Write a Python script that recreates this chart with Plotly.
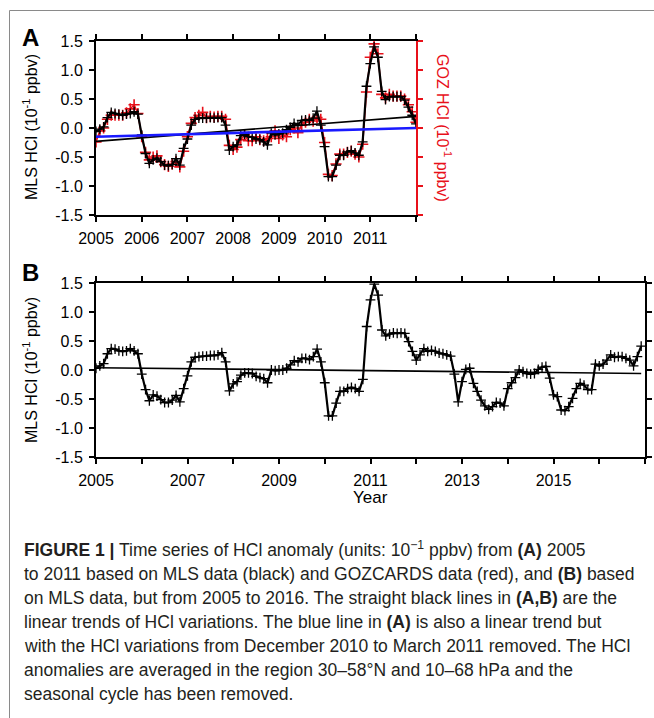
import numpy as np
import plotly.graph_objects as go

W, H = 654, 718

# ---------------- data ----------------
# Panel A: monthly HCl anomalies, Jan 2005 - Jan 2012 (10^-1 ppbv)
mls_a = [
    -0.06, -0.02, 0.02, 0.18, 0.27, 0.25, 0.24, 0.22, 0.24, 0.25, 0.28, 0.24,
    -0.12, -0.44, -0.61, -0.55, -0.52, -0.58, -0.64, -0.65, -0.63, -0.53, -0.64, -0.35,
    -0.19, 0.05, 0.15, 0.17, 0.17, 0.17, 0.18, 0.17, 0.18, 0.18, 0.05, -0.38,
    -0.32, -0.29, -0.13, -0.11, -0.15, -0.16, -0.19, -0.20, -0.24, -0.29, -0.09, -0.12,
    -0.10, -0.09, -0.03, 0.01, 0.08, 0.05, 0.13, 0.14, 0.13, 0.17, 0.29, 0.05,
    -0.32, -0.84, -0.84, -0.64, -0.47, -0.47, -0.41, -0.39, -0.43, -0.47, -0.24, 0.72,
    1.11, 1.40, 1.22, 0.63, 0.49, 0.54, 0.54, 0.54, 0.54, 0.48, 0.36, 0.22,
    0.07,
]
goz_a = [
    -0.24, -0.05, 0.00, 0.15, 0.22, 0.22, 0.22, 0.22, 0.26, 0.33, 0.40, 0.25,
    -0.15, -0.42, -0.55, -0.50, -0.48, -0.58, -0.63, -0.66, -0.62, -0.58, -0.67, -0.40,
    -0.15, 0.08, 0.18, 0.22, 0.27, 0.18, 0.20, 0.19, 0.20, 0.20, 0.15, -0.30,
    -0.37, -0.33, -0.20, -0.12, -0.22, -0.22, -0.15, -0.20, -0.22, -0.18, -0.15, -0.05,
    -0.18, -0.12, -0.15, -0.03, 0.00, -0.08, 0.05, 0.10, 0.15, 0.12, 0.18, 0.15,
    -0.25, -0.80, -0.82, -0.62, -0.45, -0.45, -0.42, -0.40, -0.45, -0.50, -0.28, 0.62,
    1.22, 1.45, 1.28, 0.58, 0.52, 0.58, 0.55, 0.55, 0.55, 0.50, 0.40, 0.28,
    0.10,
]
# linear trends in panel A (start 2005.0, end 2012.0)
trend_a_years = [2005.0, 2012.0]
trend_a_all = [-0.23, 0.20]
trend_a_nopeak = [-0.15, 0.00]

# Panel B: monthly MLS HCl anomalies, Jan 2005 - Dec 2016
mls_b = [
    0.03, 0.07, 0.11, 0.28, 0.37, 0.36, 0.33, 0.32, 0.33, 0.37, 0.33, 0.28,
    -0.07, -0.34, -0.53, -0.43, -0.45, -0.51, -0.56, -0.56, -0.52, -0.44, -0.55, -0.32,
    -0.10, 0.14, 0.22, 0.23, 0.24, 0.24, 0.25, 0.25, 0.26, 0.30, 0.14, -0.36,
    -0.24, -0.20, -0.09, -0.05, -0.05, -0.06, -0.11, -0.13, -0.15, -0.22, 0.00, -0.01,
    0.00, 0.00, 0.03, 0.09, 0.16, 0.14, 0.20, 0.20, 0.18, 0.23, 0.36, 0.14,
    -0.22, -0.79, -0.79, -0.57, -0.37, -0.37, -0.32, -0.30, -0.32, -0.37, -0.16, 0.75,
    1.21, 1.48, 1.29, 0.69, 0.59, 0.62, 0.64, 0.63, 0.64, 0.63, 0.49, 0.32,
    0.17, 0.26, 0.37, 0.32, 0.34, 0.32, 0.29, 0.28, 0.26, 0.24, -0.07, -0.55,
    -0.20, 0.01, 0.03, -0.23, -0.37, -0.52, -0.62, -0.68, -0.63, -0.56, -0.57, -0.62,
    -0.32, -0.22, -0.13, 0.00, -0.03, -0.06, -0.07, -0.06, 0.01, 0.05, 0.06, -0.14,
    -0.43, -0.46, -0.69, -0.70, -0.63, -0.49, -0.32, -0.23, -0.26, -0.34, -0.34, 0.10,
    0.07, 0.10, 0.17, 0.26, 0.22, 0.23, 0.23, 0.20, 0.17, 0.07, 0.23, 0.41,
]
trend_b_values = [0.04, -0.06]

y_ticks = [-1.5, -1.0, -0.5, 0.0, 0.5, 1.0, 1.5]
y_ticktext = ["-1.5", "-1.0", "-0.5", "0.0", "0.5", "1.0", "1.5"]
a_years = list(range(2005, 2013))
a_year_labels = ["2005", "2006", "2007", "2008", "2009", "2010", "2011", ""]
b_years = list(range(2005, 2018))
b_year_labels = ["2005", "", "2007", "", "2009", "", "2011", "", "2013", "", "2015", "", ""]

t_a = 2005 + np.arange(len(mls_a)) / 12.0
t_b = 2005 + np.arange(len(mls_b)) / 12.0
trend_b_years = [2005.0, float(t_b[-1])]

# ---------------- layout helpers ----------------
def fx(x):
    return x / W

def fy(y):
    return 1 - y / H

FONT = "Liberation Sans, Arial, Helvetica, sans-serif"
RED = "#e8101a"
BLUE = "#1a1aff"

fig = go.Figure()

cross_black = dict(symbol="cross-thin", size=7, line=dict(width=1.3, color="black"), color="black")
cross_red = dict(symbol="cross-thin", size=8, line=dict(width=1.6, color=RED), color=RED)

# panel A
fig.add_trace(go.Scatter(x=t_a, y=goz_a, mode="lines+markers", line=dict(color=RED, width=1.5),
                         marker=cross_red, xaxis="x", yaxis="y", showlegend=False))
fig.add_trace(go.Scatter(x=t_a, y=mls_a, mode="lines+markers", line=dict(color="black", width=2.2),
                         marker=cross_black, xaxis="x", yaxis="y", showlegend=False))
fig.add_trace(go.Scatter(x=trend_a_years, y=trend_a_all, mode="lines", line=dict(color="black", width=1.6),
                         xaxis="x", yaxis="y", showlegend=False))
fig.add_trace(go.Scatter(x=trend_a_years, y=trend_a_nopeak, mode="lines", line=dict(color=BLUE, width=2.6),
                         xaxis="x", yaxis="y", showlegend=False))

# panel B
fig.add_trace(go.Scatter(x=t_b, y=mls_b, mode="lines+markers", line=dict(color="black", width=2.2),
                         marker=cross_black, xaxis="x2", yaxis="y2", showlegend=False))
fig.add_trace(go.Scatter(x=trend_b_years, y=trend_b_values, mode="lines", line=dict(color="black", width=1.6),
                         xaxis="x2", yaxis="y2", showlegend=False))

# the red GOZCARDS axis on the right of panel A
fig.add_trace(go.Scatter(x=[2005], y=[0], mode="markers", marker=dict(opacity=0), xaxis="x", yaxis="y3",
                         showlegend=False, hoverinfo="skip"))

tickfont = dict(family=FONT, size=16, color="black")
axis_common = dict(showgrid=False, zeroline=False, showline=True, linewidth=2, linecolor="black",
                   ticks="outside", ticklen=5, tickwidth=1.5, tickcolor="black", tickfont=tickfont,
                   automargin=False)

a_left, a_right, a_top, a_bot = 96, 416, 41, 215
b_left, b_right, b_top, b_bot = 96, 645, 283, 457

fig.update_layout(
    width=W, height=H, margin=dict(l=0, r=0, t=0, b=0, autoexpand=False),
    paper_bgcolor="white", plot_bgcolor="white",
    font=dict(family=FONT, color="black"),
    xaxis=dict(domain=[fx(a_left), fx(a_right)], anchor="y", range=[2005, 2012],
               tickvals=a_years, ticktext=a_year_labels, mirror="ticks", ticklabelstandoff=3,
               **axis_common),
    yaxis=dict(domain=[fy(a_bot), fy(a_top)], anchor="x", range=[-1.5, 1.5],
               tickvals=y_ticks, ticktext=y_ticktext, ticklabelstandoff=3, **axis_common),
    yaxis3=dict(overlaying="y", side="right", anchor="x", range=[-1.5, 1.5], tickvals=y_ticks,
                showticklabels=False, showgrid=False, zeroline=False, showline=True, linewidth=2,
                linecolor=RED, ticks="outside", ticklen=5, tickwidth=1.5, tickcolor=RED, automargin=False),
    xaxis2=dict(domain=[fx(b_left), fx(b_right)], anchor="y2", range=[2005, 2017],
                tickvals=b_years, ticktext=b_year_labels, mirror="ticks", ticklabelstandoff=3,
                **axis_common),
    yaxis2=dict(domain=[fy(b_bot), fy(b_top)], anchor="x2", range=[-1.5, 1.5],
                tickvals=y_ticks, ticktext=y_ticktext, mirror="ticks", ticklabelstandoff=3,
                **axis_common),
)

ann = []
ann.append(dict(x=fx(30), y=fy(37), text="<b>A</b>", font=dict(family=FONT, size=24, color="black")))
ann.append(dict(x=fx(30), y=fy(272), text="<b>B</b>", font=dict(family=FONT, size=24, color="black")))
ytitle = "MLS HCl (10<sup>-1</sup> ppbv)"
ann.append(dict(x=fx(30), y=fy(127), text=ytitle, textangle=-90, font=dict(family=FONT, size=16, color="black")))
ann.append(dict(x=fx(30), y=fy(370), text=ytitle, textangle=-90, font=dict(family=FONT, size=16, color="black")))
ann.append(dict(x=fx(444), y=fy(128), text="GOZ HCl (10<sup>-1</sup> ppbv)", textangle=90,
                font=dict(family=FONT, size=16, color=RED)))
ann.append(dict(x=fx(370), y=fy(497), text="Year", font=dict(family=FONT, size=17, color="black")))

caption_lines = [
    "<b>FIGURE 1 |</b> Time series of HCl anomaly (units: 10<sup>\u22121</sup> ppbv) from <b>(A)</b> 2005",
    "to 2011 based on MLS data (black) and GOZCARDS data (red), and <b>(B)</b> based",
    "on MLS data, but from 2005 to 2016. The straight black lines in <b>(A,B)</b> are the",
    "linear trends of HCl variations. The blue line in <b>(A)</b> is also a linear trend but",
    "with the HCl variations from December 2010 to March 2011 removed. The HCl",
    "anomalies are averaged in the region 30\u201358\u00b0N and 10\u201368 hPa and the",
    "seasonal cycle has been removed.",
]
cap_y = [549, 574, 598, 622, 646, 670, 694]
for line, yy in zip(caption_lines, cap_y):
    ann.append(dict(x=fx(22), y=fy(yy), text=line, xanchor="left",
                    font=dict(family=FONT, size=17.5, color="#231f20")))

for a in ann:
    a.setdefault("xanchor", "center")
    a.update(xref="paper", yref="paper", yanchor="middle", showarrow=False)
fig.update_layout(annotations=ann)

# figure frame
fig.update_layout(shapes=[
    dict(type="line", xref="paper", yref="paper", x0=fx(9.5), x1=1.0, y0=fy(10.5), y1=fy(10.5),
         line=dict(color="#8a8a8a", width=1)),
    dict(type="line", xref="paper", yref="paper", x0=fx(9.5), x1=fx(9.5), y0=fy(10.5), y1=0,
         line=dict(color="#8a8a8a", width=1)),
])

fig.write_html("out.html")
